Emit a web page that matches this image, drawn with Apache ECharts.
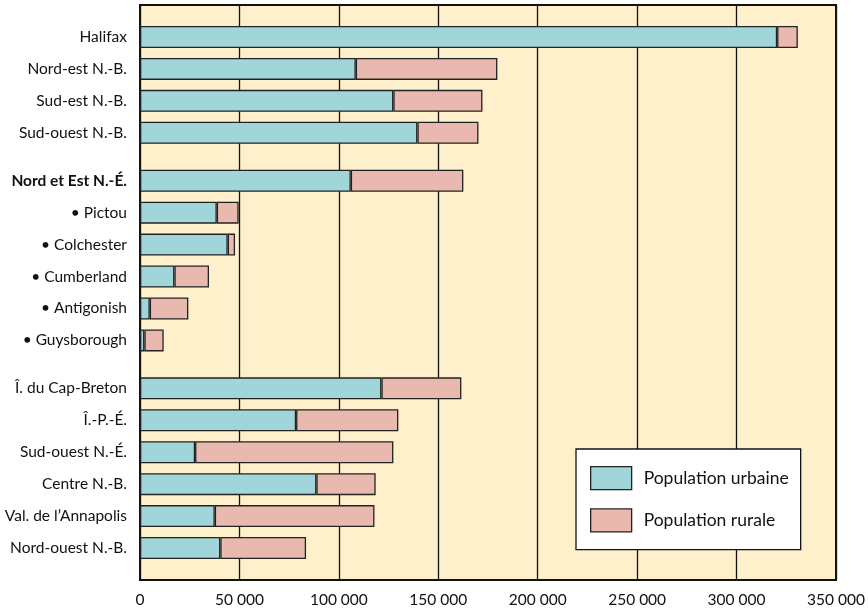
<!DOCTYPE html>
<html>
<head>
<meta charset="utf-8">
<script src="https://cdn.jsdelivr.net/npm/echarts@6/dist/echarts.min.js"></script>
<style>
  html, body { margin: 0; padding: 0; background: #ffffff; }
  #chart { width: 868px; height: 612px; }
</style>
</head>
<body>
<div id="chart"></div>
<script>
// Regions, top to bottom
const regions = [
  'Halifax', 'Nord-est N.-B.', 'Sud-est N.-B.', 'Sud-ouest N.-B.',
  'Nord et Est N.-É.', '• Pictou', '• Colchester', '• Cumberland', '• Antigonish', '• Guysborough',
  'Î. du Cap-Breton', 'Î.-P.-É.', 'Sud-ouest N.-É.', 'Centre N.-B.', 'Val. de l\u2019Annapolis', 'Nord-ouest N.-B.'
];
const urbanPop = [320400, 108500, 127400, 139500, 106000, 38600, 44100, 17300, 4900, 2200, 121400, 78500, 27700, 88700, 37600, 40400];
const ruralPop = [10400, 71200, 44800, 30700, 56600, 11000, 3700, 17400, 19400, 9700, 40200, 51400, 99700, 29800, 80300, 43100];
const boldRegion = 'Nord et Est N.-É.';
// rows that start a new group (an extra half-row of space goes before them)
const groupStarts = [4, 10];
const xTicks = [0, 50000, 100000, 150000, 200000, 250000, 300000, 350000];
const seriesNames = ['Population urbaine', 'Population rurale'];

// Half-row slots on the category axis: two above the first bar, two between rows
const slotCount = 37;
const slotOf = regions.map((_, i) => 2 + 2 * i + groupStarts.filter(g => i >= g).length);
const axisCats = new Array(slotCount).fill('');
const urbanSlots = new Array(slotCount).fill('-');
const ruralSlots = new Array(slotCount).fill('-');
regions.forEach((r, i) => {
  axisCats[slotOf[i]] = r;
  urbanSlots[slotOf[i]] = urbanPop[i];
  ruralSlots[slotOf[i]] = ruralPop[i];
});

const fontFamily = 'Lato';
const chart = echarts.init(document.getElementById('chart'), null, { renderer: 'canvas' });
chart.setOption({
  animation: false,
  textStyle: { fontFamily: fontFamily, color: '#111' },
  grid: {
    left: 140, right: 32, top: 5, bottom: 32,
    show: true, backgroundColor: '#FDF0CB', borderColor: '#111', borderWidth: 2
  },
  legend: {
    orient: 'vertical',
    left: 576, top: 449,
    icon: 'rect',
    itemWidth: 41, itemHeight: 23, itemGap: 18,
    padding: [17, 12, 17, 14],
    backgroundColor: '#ffffff', borderColor: '#111', borderWidth: 1.3,
    textStyle: { fontFamily: fontFamily, fontSize: 17.5, color: '#111', padding: [0, 0, 0, 7] },
    itemStyle: { borderColor: '#222', borderWidth: 1.3 },
    data: seriesNames
  },
  xAxis: {
    type: 'value', min: 0, max: 350000, interval: 50000,
    axisLine: { show: false }, axisTick: { show: false },
    splitLine: { show: true, lineStyle: { color: '#111', width: 1.3 } },
    axisLabel: {
      margin: 12, fontSize: 15.5, fontFamily: fontFamily, color: '#111',
      formatter: v => xTicks.includes(v) ? String(v).replace(/\B(?=(\d{3})+(?!\d))/g, ' ') : ''
    }
  },
  yAxis: {
    type: 'category', inverse: true, boundaryGap: false, data: axisCats,
    axisLine: { show: false }, axisTick: { show: false }, splitLine: { show: false },
    axisLabel: {
      interval: 0, margin: 13, fontSize: 15.5, fontFamily: fontFamily, color: '#111',
      formatter: v => v === boldRegion ? '{b|' + v + '}' : v,
      rich: { b: { fontWeight: 'bold', fontSize: 15.5, fontFamily: fontFamily, color: '#111' } }
    }
  },
  series: [
    {
      name: seriesNames[0], type: 'bar', stack: 'pop', barWidth: 22, data: urbanSlots,
      itemStyle: { color: '#A0D5DA', borderColor: '#222', borderWidth: 1.3 }
    },
    {
      name: seriesNames[1], type: 'bar', stack: 'pop', barWidth: 22, data: ruralSlots,
      itemStyle: { color: '#E9B9AF', borderColor: '#222', borderWidth: 1.3 }
    }
  ]
});
</script>
</body>
</html>
